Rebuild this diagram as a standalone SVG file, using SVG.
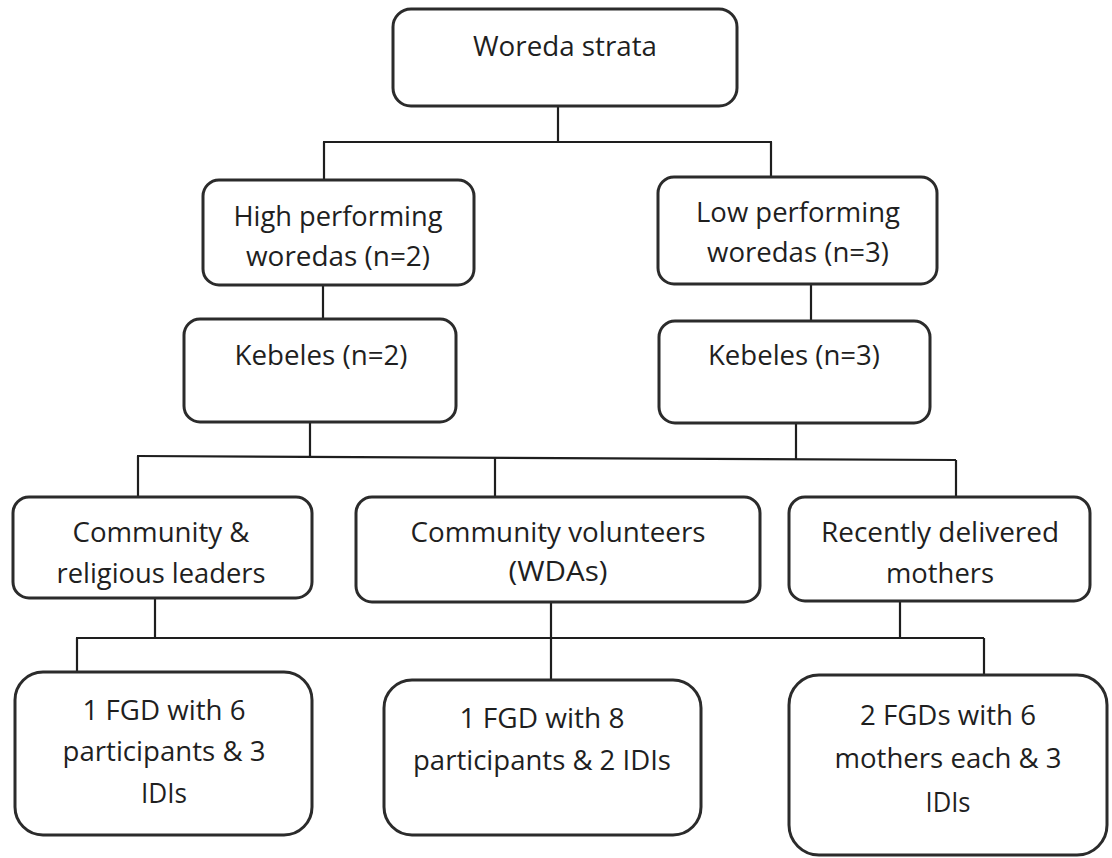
<svg xmlns="http://www.w3.org/2000/svg" width="1112" height="858" viewBox="0 0 1112 858">
<style>
.box{fill:#fff;stroke:#2b2b2b;stroke-width:3}
.t{font-family:"Open Sans","Noto Sans",sans-serif;font-size:27px;fill:#1f1f1f;text-anchor:middle}
.c{fill:none;stroke:#1e1e1e;stroke-width:2.2}
</style>
<rect width="1112" height="858" fill="#fff"/>
<g id="connectors" class="c">
<path d="M558 106V142M323 142H772M324 142V180M771 142V177"/>
<path d="M323 285V319M811 284V321"/>
<path d="M310 422V456M796 423V459M137 456L956 460"/>
<path d="M138 456V497M495 458V497M956 460V497"/>
<path d="M155 598V638M551 602V680M900 601V638M76 638H984M77 638V672M984 638V675"/>
</g>
<g id="woreda">
<rect class="box" x="393" y="9" width="344" height="97" rx="18"/>
<text class="t" x="565" y="56" textLength="184" lengthAdjust="spacingAndGlyphs">Woreda strata</text>
</g>
<g id="high">
<rect class="box" x="203" y="180" width="271" height="105" rx="16"/>
<text class="t" x="338" y="226" textLength="209" lengthAdjust="spacingAndGlyphs">High performing</text>
<text class="t" x="338" y="266" textLength="184" lengthAdjust="spacingAndGlyphs">woredas (n=2)</text>
</g>
<g id="low">
<rect class="box" x="658" y="177" width="279" height="107" rx="16"/>
<text class="t" x="798" y="222" textLength="204" lengthAdjust="spacingAndGlyphs">Low performing</text>
<text class="t" x="798" y="262" textLength="182" lengthAdjust="spacingAndGlyphs">woredas (n=3)</text>
</g>
<g id="kebeles2">
<rect class="box" x="184" y="319" width="272" height="103" rx="16"/>
<text class="t" x="321" y="365" textLength="173" lengthAdjust="spacingAndGlyphs">Kebeles (n=2)</text>
</g>
<g id="kebeles3">
<rect class="box" x="659" y="321" width="271" height="102" rx="16"/>
<text class="t" x="794" y="365" textLength="172" lengthAdjust="spacingAndGlyphs">Kebeles (n=3)</text>
</g>
<g id="community">
<rect class="box" x="13" y="497" width="299" height="101" rx="16"/>
<text class="t" x="161" y="542" textLength="177" lengthAdjust="spacingAndGlyphs">Community &amp;</text>
<text class="t" x="161" y="583" textLength="209" lengthAdjust="spacingAndGlyphs">religious leaders</text>
</g>
<g id="volunteers">
<rect class="box" x="356" y="497" width="404" height="105" rx="16"/>
<text class="t" x="558" y="542" textLength="295" lengthAdjust="spacingAndGlyphs">Community volunteers</text>
<text class="t" x="558" y="581" textLength="99" lengthAdjust="spacingAndGlyphs">(WDAs)</text>
</g>
<g id="mothers">
<rect class="box" x="789" y="497" width="301" height="104" rx="16"/>
<text class="t" x="940" y="542" textLength="238" lengthAdjust="spacingAndGlyphs">Recently delivered</text>
<text class="t" x="940" y="583" textLength="108" lengthAdjust="spacingAndGlyphs">mothers</text>
</g>
<g id="fgd1">
<rect class="box" x="15" y="672" width="297" height="163" rx="28"/>
<text class="t" x="164" y="720" textLength="163" lengthAdjust="spacingAndGlyphs">1 FGD with 6</text>
<text class="t" x="164" y="761" textLength="203" lengthAdjust="spacingAndGlyphs">participants &amp; 3</text>
<text class="t" x="164" y="803" textLength="46" lengthAdjust="spacingAndGlyphs">IDIs</text>
</g>
<g id="fgd2">
<rect class="box" x="384" y="680" width="317" height="155" rx="28"/>
<text class="t" x="542" y="728" textLength="165" lengthAdjust="spacingAndGlyphs">1 FGD with 8</text>
<text class="t" x="542" y="770" textLength="258" lengthAdjust="spacingAndGlyphs">participants &amp; 2 IDIs</text>
</g>
<g id="fgd3">
<rect class="box" x="789" y="675" width="318" height="180" rx="30"/>
<text class="t" x="948" y="725" textLength="176" lengthAdjust="spacingAndGlyphs">2 FGDs with 6</text>
<text class="t" x="948" y="768" textLength="227" lengthAdjust="spacingAndGlyphs">mothers each &amp; 3</text>
<text class="t" x="948" y="812" textLength="45" lengthAdjust="spacingAndGlyphs">IDIs</text>
</g>
</svg>
